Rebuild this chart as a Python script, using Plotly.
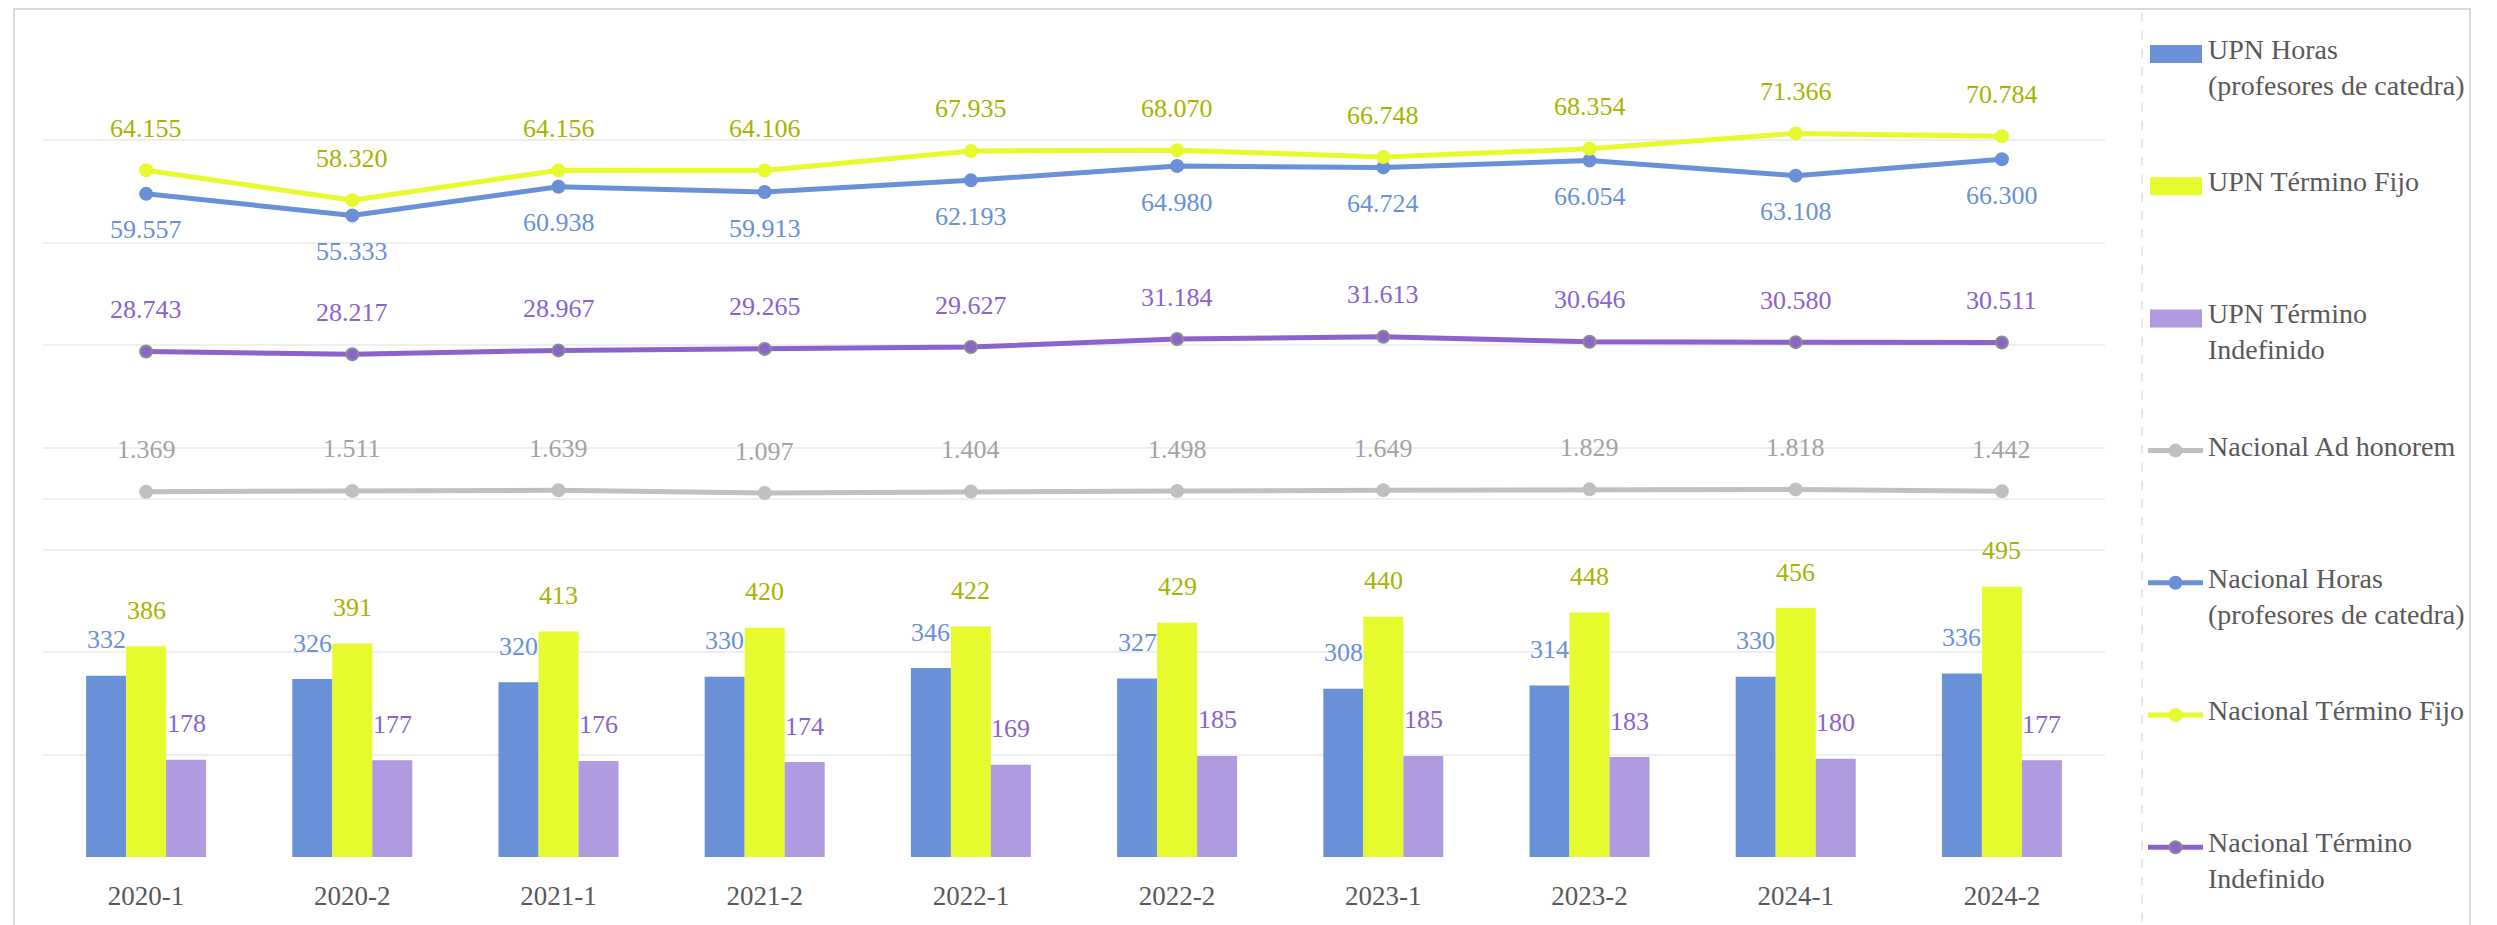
import plotly.graph_objects as go

# periods
categories = ["2020-1", "2020-2", "2021-1", "2021-2", "2022-1",
              "2022-2", "2023-1", "2023-2", "2024-1", "2024-2"]

# UPN (bars)
upn_horas = [332, 326, 320, 330, 346, 327, 308, 314, 330, 336]
upn_fijo = [386, 391, 413, 420, 422, 429, 440, 448, 456, 495]
upn_indef = [178, 177, 176, 174, 169, 185, 185, 183, 180, 177]

# Nacional (lines, thousands)
nac_adhon = [1.369, 1.511, 1.639, 1.097, 1.404, 1.498, 1.649, 1.829, 1.818, 1.442]
nac_horas = [59.557, 55.333, 60.938, 59.913, 62.193, 64.980, 64.724, 66.054, 63.108, 66.300]
nac_fijo = [64.155, 58.320, 64.156, 64.106, 67.935, 68.070, 66.748, 68.354, 71.366, 70.784]
nac_indef = [28.743, 28.217, 28.967, 29.265, 29.627, 31.184, 31.613, 30.646, 30.580, 30.511]

names = [
    "UPN Horas<br>(profesores de catedra)",
    "UPN Término Fijo",
    "UPN Término<br>Indefinido",
    "Nacional Ad honorem",
    "Nacional Horas<br>(profesores de catedra)",
    "Nacional Término Fijo",
    "Nacional Término<br>Indefinido",
]

BLUE = "#6a90d7"
YELLOW = "#e6fa2e"
OLIVE = "#a8b300"
LILAC = "#b09ae0"
PURPLE = "#8a63cc"
GRAY = "#c0c0c0"
GRAY_TXT = "#a3a3a3"
GRID = "#efefef"
TXT = "#595959"
FONT = "Liberation Serif"

# plot area in pixels (used for the hand-made legend)
L, R, T, B = 43, 2105, 38, 857


def px_x(x):
    return (x - L) / (R - L)


def px_y(y):
    return (B - y) / (B - T)


fig = go.Figure()

bar_specs = [(upn_horas, BLUE, BLUE, -40), (upn_fijo, YELLOW, OLIVE, 0), (upn_indef, LILAC, PURPLE, 40)]
for i, (vals, col, txtcol, dx) in enumerate(bar_specs):
    fig.add_trace(go.Bar(x=categories, y=vals, name=names[i].replace("<br>", " "),
                         marker=dict(color=col, line=dict(width=0)), yaxis="y"))

line_specs = [
    (nac_adhon, GRAY, GRAY, GRAY_TXT, 42),
    (nac_horas, BLUE, BLUE, BLUE, -36),
    (nac_fijo, YELLOW, YELLOW, OLIVE, 42),
    (nac_indef, PURPLE, "#8c8c8c", PURPLE, 42),
]
for j, (vals, col, edge, txtcol, dy) in enumerate(line_specs):
    fig.add_trace(go.Scatter(x=categories, y=vals, name=names[3 + j].replace("<br>", " "),
                             mode="lines+markers", yaxis="y2",
                             line=dict(color=col, width=5),
                             marker=dict(color=col, size=12, line=dict(color=edge, width=2))))

annotations = []
for vals, col, txtcol, dx in bar_specs:
    for c, v in zip(categories, vals):
        annotations.append(dict(x=c, y=v, xref="x", yref="y", text=str(v), showarrow=False,
                                xshift=dx, yshift=36, yanchor="middle",
                                font=dict(size=26, color=txtcol, family=FONT)))
for vals, col, edge, txtcol, dy in line_specs:
    for c, v in zip(categories, vals):
        annotations.append(dict(x=c, y=v, xref="x", yref="y2", text=f"{v:.3f}", showarrow=False,
                                yshift=dy, yanchor="middle",
                                font=dict(size=26, color=txtcol, family=FONT)))

# legend drawn by hand to match swatch sizes and spacing
shapes = []
legend_colors = [BLUE, YELLOW, LILAC, GRAY, BLUE, YELLOW, PURPLE]
legend_edges = [None, None, None, GRAY, BLUE, YELLOW, "#8c8c8c"]
for k, name in enumerate(names):
    yc = 54 + 132.2 * k
    col = legend_colors[k]
    if k < 3:
        shapes.append(dict(type="rect", xref="paper", yref="paper",
                           x0=px_x(2150), x1=px_x(2202), y0=px_y(yc + 9), y1=px_y(yc - 9),
                           fillcolor=col, line=dict(width=0)))
    else:
        shapes.append(dict(type="line", xref="paper", yref="paper",
                           x0=px_x(2148), x1=px_x(2203), y0=px_y(yc), y1=px_y(yc),
                           line=dict(color=col, width=5)))
        shapes.append(dict(type="circle", xref="paper", yref="paper",
                           xsizemode="pixel", ysizemode="pixel",
                           xanchor=px_x(2175.5), yanchor=px_y(yc),
                           x0=-6, x1=6, y0=-6, y1=6,
                           fillcolor=col, line=dict(color=legend_edges[k], width=2)))
    annotations.append(dict(xref="paper", yref="paper", x=px_x(2206), y=px_y(yc - 22),
                            xanchor="left", yanchor="top", align="left", text=name,
                            showarrow=False, font=dict(size=28, color=TXT, family=FONT)))

# outer frame and dashed separator
shapes.append(dict(type="rect", xref="paper", yref="paper",
                   x0=px_x(14), x1=px_x(2470), y0=px_y(940), y1=px_y(9),
                   line=dict(color="#d9d9d9", width=2), layer="below"))
shapes.append(dict(type="line", xref="paper", yref="paper",
                   x0=px_x(2142), x1=px_x(2142), y0=px_y(940), y1=px_y(12),
                   line=dict(color="#e8e8e8", width=2, dash="dash")))

fig.update_layout(
    width=2497, height=925, autosize=False,
    margin=dict(l=L, r=2497 - R, t=T, b=925 - B),
    paper_bgcolor="white", plot_bgcolor="white",
    barmode="group", bargap=0.418, bargroupgap=0,
    showlegend=False,
    font=dict(family=FONT, color=TXT),
    xaxis=dict(type="category", range=[-0.5, 9.5], showgrid=False, showline=False,
               ticks="", ticklabelstandoff=20, tickfont=dict(size=27, color=TXT, family=FONT)),
    yaxis=dict(range=[0, 1500], showgrid=False, zeroline=False, showticklabels=False),
    yaxis2=dict(range=[-70, 90], overlaying="y", side="right",
                tickvals=[-70, -50, -30, -10, 10, 30, 50, 70, 90],
                showgrid=True, gridcolor=GRID, gridwidth=2,
                zeroline=True, zerolinecolor=GRID, zerolinewidth=2,
                showticklabels=False),
    annotations=annotations,
    shapes=shapes,
)

fig.write_html("out.html", config={"displayModeBar": False},
               post_script="document.body.style.margin='0';")
